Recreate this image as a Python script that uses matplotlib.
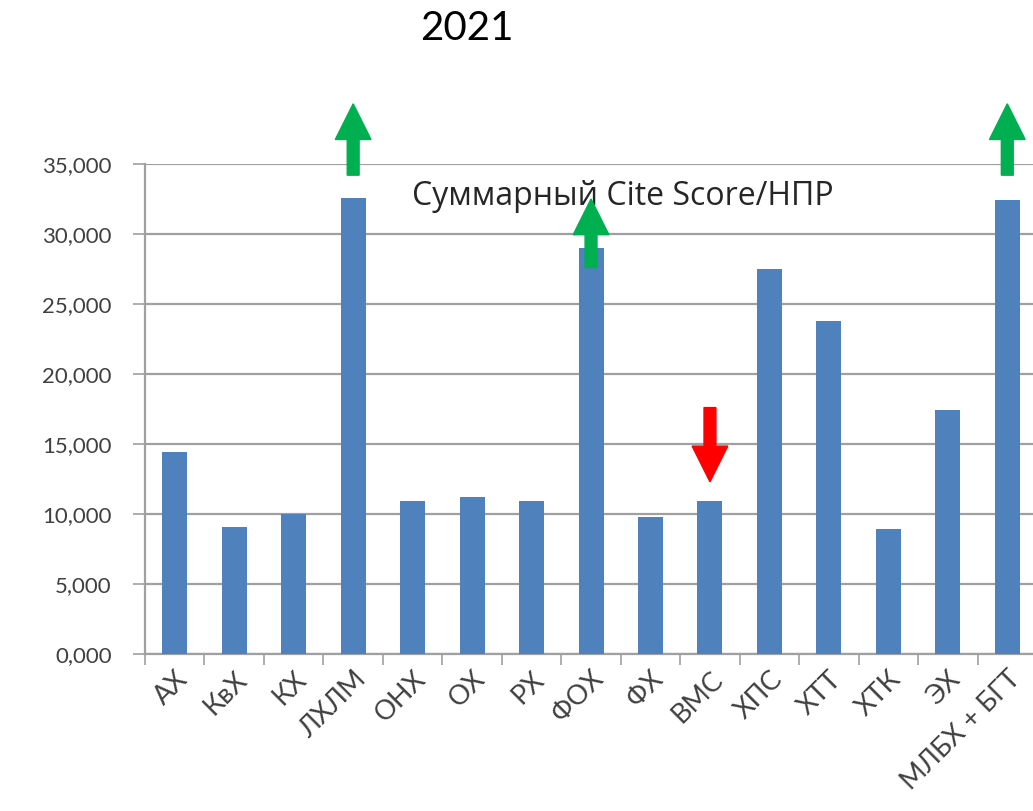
import matplotlib.pyplot as plt
from matplotlib.patches import FancyArrow
import numpy as np

categories = ['АХ', 'КвХ', 'КХ', 'ЛХЛМ', 'ОНХ', 'ОХ', 'РХ', 'ФОХ', 'ФХ', 'ВМС',
              'ХПС', 'ХТТ', 'ХТК', 'ЭХ', 'МЛБХ + БГТ']
values = [14.4, 9.1, 10.0, 32.6, 10.9, 11.2, 10.9, 29.0, 9.8, 10.9,
          27.5, 23.8, 8.9, 17.4, 32.4]
yticks = [0, 5, 10, 15, 20, 25, 30, 35]

# arrows: (category index, start, end, colour)
arrows = [(3, 34.2, 39.3, '#00B050'),
          (7, 27.6, 32.5, '#00B050'),
          (14, 34.2, 39.3, '#00B050'),
          (9, 17.6, 12.3, '#FF0000')]

plt.rcParams['font.family'] = ['Lato', 'DejaVu Sans']

fig = plt.figure(figsize=(10.33, 8.11), dpi=100)
ax = fig.add_axes([0.1404, 0.1936, 0.8635, 0.6042])

x = np.arange(len(categories))
ax.bar(x, values, width=0.42, color='#4F81BD', zorder=3)

ax.set_xlim(-0.5, len(categories) - 0.5)
ax.set_ylim(0, 35)
ax.set_yticks(yticks)
ax.set_yticklabels([f'{v},000' for v in yticks], fontsize=16, color='#404040')
ax.yaxis.grid(True, color='#A0A0A0', linewidth=1.6, zorder=0)

ax.set_xticks(x)
ax.set_xticklabels(categories, rotation=45, ha='right', rotation_mode='anchor',
                   fontsize=19.5, color='#404040')
ax.set_xticks(np.arange(-0.5, len(categories)), minor=True)
ax.tick_params(axis='x', which='major', length=0, pad=9)
ax.tick_params(axis='x', which='minor', length=8, width=1.2, color='#A0A0A0')
ax.tick_params(axis='y', length=9, width=1.2, color='#A0A0A0', pad=15)

for s in ['top', 'right']:
    ax.spines[s].set_visible(False)
for s in ['left', 'bottom']:
    ax.spines[s].set_color('#A0A0A0')
    ax.spines[s].set_linewidth(1.6)

for i, y0, y1, col in arrows:
    ar = FancyArrow(i, y0, 0, y1 - y0, width=0.2, head_width=0.6,
                    head_length=2.55, length_includes_head=True,
                    color=col, clip_on=False, zorder=5)
    ax.add_patch(ar)

ax.text(7.54, 32.7, 'Суммарный Cite Score/НПР', ha='center', va='center',
        fontsize=23, color='#262626', family=['Open Sans', 'DejaVu Sans'], zorder=4)

fig.text(0.452, 0.965, '2021', ha='center', va='center', fontsize=29, color='black')

plt.savefig('out.png', dpi=100)
